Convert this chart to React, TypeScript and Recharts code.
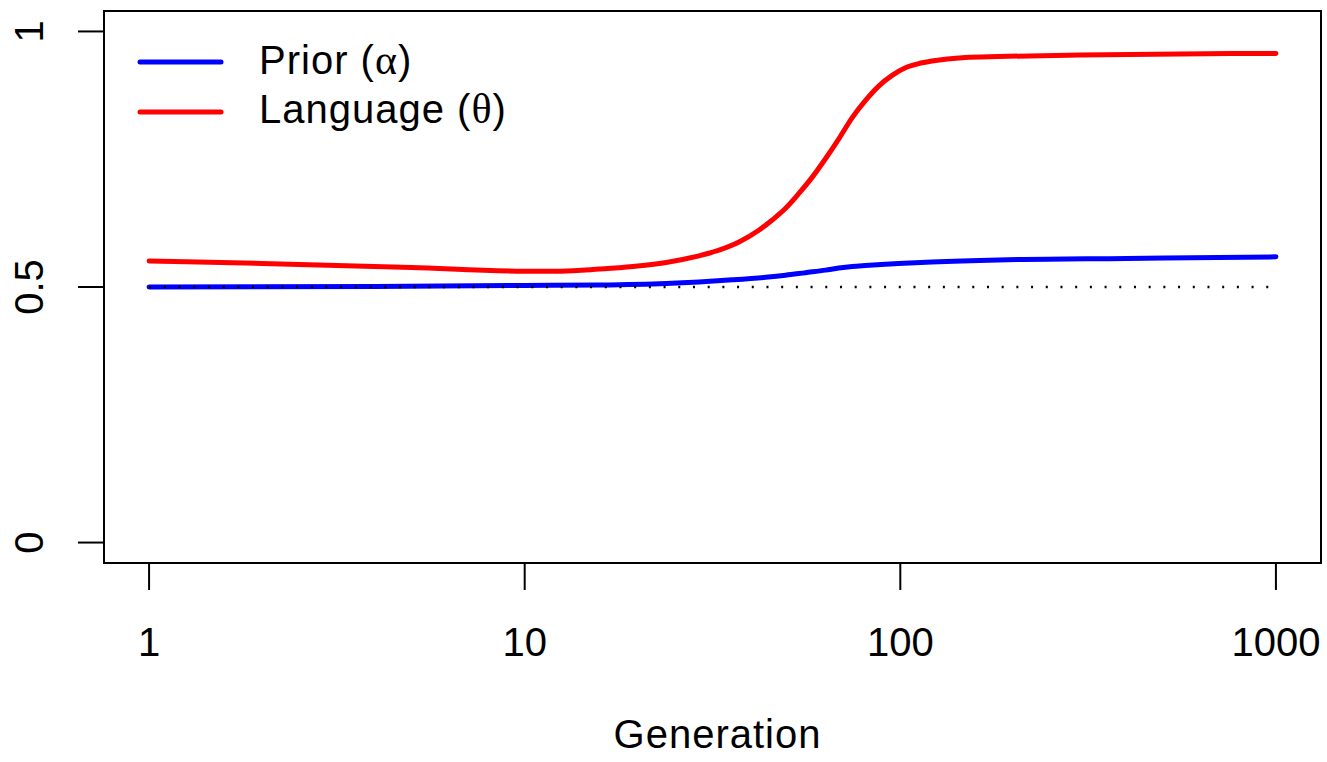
import React from 'react';
import { LineChart, Line, XAxis, YAxis, ReferenceArea, Legend } from 'recharts';

// Generations (log scale) and values
const GEN_PRIOR = [1, 4, 10, 15.8, 23.8, 29.1, 35.7, 43.8, 49.5, 55.9, 63.2, 68.6, 74.4, 80.8, 98.9, 121.4, 182.5, 400, 1000];
const PRIOR = [0.5, 0.501, 0.503, 0.504, 0.507, 0.51, 0.514, 0.519, 0.523, 0.528, 0.533, 0.537, 0.54, 0.542, 0.546, 0.549, 0.553, 0.556, 0.559];

const GEN_LANG = [1, 2, 5, 10, 12.5, 15.8, 19.4, 23.8, 29.1, 32.9, 37.2, 42, 45.6, 49.5, 53.7, 58.3, 63.2, 68.6, 74.4, 80.8, 87.6, 95.1, 103.2, 111.9, 121.4, 148.9, 182.5, 300, 1000];
const LANGUAGE = [0.551, 0.546, 0.538, 0.531, 0.531, 0.535, 0.54, 0.548, 0.561, 0.572, 0.588, 0.611, 0.631, 0.654, 0.683, 0.715, 0.751, 0.79, 0.831, 0.865, 0.893, 0.914, 0.929, 0.937, 0.942, 0.949, 0.951, 0.954, 0.957];

const GEN_REF = [1, 1000];
const REF = [0.5, 0.5];

const X_TICKS = [1, 10, 100, 1000];
const Y_TICKS = [0, 0.5, 1];
const X_DOMAIN = [Math.pow(10, -0.12), Math.pow(10, 3.12)];
const Y_DOMAIN = [-0.04, 1.04];

const priorData = GEN_PRIOR.map((g, i) => ({ g, v: PRIOR[i] }));
const langData = GEN_LANG.map((g, i) => ({ g, v: LANGUAGE[i] }));
const refData = GEN_REF.map((g, i) => ({ g, v: REF[i] }));

const FONT = '"Liberation Sans", Arial, Helvetica, sans-serif';
const GREEK = '"Liberation Serif", "DejaVu Serif", serif';

const XTick = (props: any) => {
  const { x, y, payload } = props;
  return (
    <text x={x} y={y + 66} textAnchor="middle" fontFamily={FONT} fontSize={40} fill="#000">
      {String(payload.value)}
    </text>
  );
};

const YTick = (props: any) => {
  const { x, y, payload } = props;
  const bx = x - 35;
  return (
    <text
      x={bx}
      y={y}
      transform={`rotate(-90, ${bx}, ${y})`}
      textAnchor="middle"
      fontFamily={FONT}
      fontSize={40}
      fill="#000"
    >
      {String(payload.value)}
    </text>
  );
};

const LegendBox = () => (
  <svg width={560} height={150} style={{ overflow: 'visible' }}>
    <line x1={140} y1={62} x2={221} y2={62} stroke="#0000ff" strokeWidth={5} strokeLinecap="round" />
    <line x1={140} y1={112} x2={221} y2={112} stroke="#ff0000" strokeWidth={5} strokeLinecap="round" />
    <text x={259} y={74} fontFamily={FONT} fontSize={40} letterSpacing={1} fill="#000">
      Prior (<tspan fontFamily={GREEK} fontSize={42}>α</tspan>)
    </text>
    <text x={259} y={123} fontFamily={FONT} fontSize={40} letterSpacing={1} fill="#000">
      Language (<tspan fontFamily={GREEK} fontSize={42}>θ</tspan>)
    </text>
  </svg>
);

export default function App() {
  return (
    <div style={{ position: 'absolute', left: 0, top: 0, background: '#fff' }}>
      <LineChart width={1327} height={762} margin={{ top: 11, right: 6, left: 0, bottom: 0 }}>
        <XAxis
          type="number"
          dataKey="g"
          scale="log"
          domain={X_DOMAIN}
          ticks={X_TICKS}
          allowDataOverflow
          height={199}
          tickSize={27}
          tickMargin={0}
          axisLine={false}
          tickLine={{ stroke: '#000', strokeWidth: 2 }}
          tick={<XTick />}
          label={({ viewBox }: any) => (
            <text
              x={viewBox.x + viewBox.width / 2 + 5}
              y={viewBox.y + 185}
              textAnchor="middle"
              fontFamily={FONT}
              fontSize={40}
              letterSpacing={1}
              fill="#000"
            >
              Generation
            </text>
          )}
        />
        <YAxis
          type="number"
          dataKey="v"
          domain={Y_DOMAIN}
          ticks={Y_TICKS}
          allowDataOverflow
          width={104}
          tickSize={26}
          tickMargin={0}
          axisLine={false}
          tickLine={{ stroke: '#000', strokeWidth: 2 }}
          tick={<YTick />}
        />
        <ReferenceArea
          x1={X_DOMAIN[0]}
          x2={X_DOMAIN[1]}
          y1={Y_DOMAIN[0]}
          y2={Y_DOMAIN[1]}
          ifOverflow="visible"
          fill="none"
          fillOpacity={0}
          stroke="#000"
          strokeWidth={2}
        />
        <Line
          data={priorData}
          dataKey="v"
          type="monotone"
          stroke="#0000ff"
          strokeWidth={5}
          strokeLinecap="round"
          dot={false}
          activeDot={false}
          isAnimationActive={false}
        />
        <Line
          data={langData}
          dataKey="v"
          type="monotone"
          stroke="#ff0000"
          strokeWidth={5}
          strokeLinecap="round"
          dot={false}
          activeDot={false}
          isAnimationActive={false}
        />
        <Line
          data={refData}
          dataKey="v"
          type="linear"
          stroke="#000"
          strokeWidth={2.5}
          strokeDasharray="2 12.7"
          dot={false}
          activeDot={false}
          isAnimationActive={false}
        />
        <Legend
          layout="vertical"
          align="center"
          verticalAlign="middle"
          content={() => <LegendBox />}
          wrapperStyle={{ position: 'absolute', left: 0, top: 0, width: 560, height: 150 }}
        />
      </LineChart>
    </div>
  );
}
